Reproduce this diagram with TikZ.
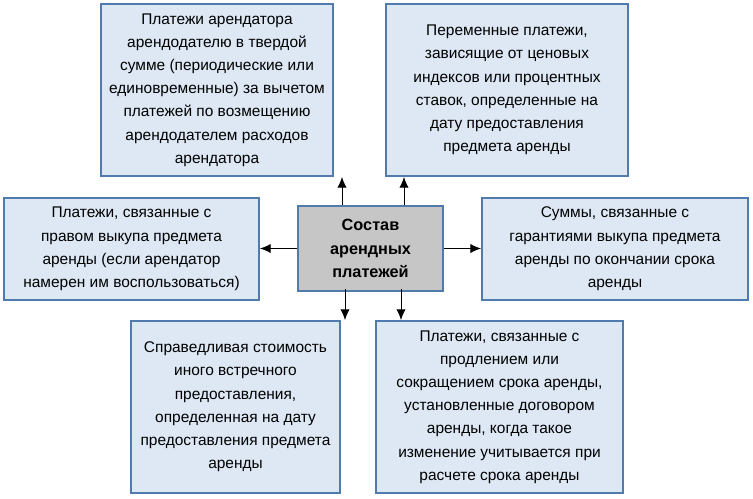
\documentclass[tikz,border=0pt]{standalone}
\usepackage{fontspec}
\setmainfont{Liberation Sans}
\usetikzlibrary{arrows.meta}
\definecolor{boxfill}{RGB}{221,232,244}
\definecolor{boxline}{RGB}{79,124,172}
\definecolor{midfill}{RGB}{198,198,198}
\tikzset{every picture/.style={line width=0.75pt}}
\tikzset{
  infobox/.style={draw=boxline, fill=boxfill, line width=1.5pt, align=center, inner sep=0pt,
    font=\fontsize{11.6}{17.4}\selectfont},
  midbox/.style={infobox, fill=midfill, font=\fontsize{12.2}{17.4}\selectfont\bfseries},
  arr/.style={-{Latex[length=8pt,width=7pt]}}
}
\begin{document}
\begin{tikzpicture}[x=0.75pt,y=0.75pt,yscale=-1,xscale=1]
\useasboundingbox (0,0) rectangle (753,499);

% Boxes
\draw (217,90) node [infobox, minimum width=232*0.75pt, minimum height=172*0.75pt] (tl)
  {Платежи арендатора\\арендодателю в твердой\\сумме (периодические или\\единовременные) за вычетом\\платежей по возмещению\\арендодателем расходов\\арендатора};
\draw (507,90) node [infobox, minimum width=242*0.75pt, minimum height=172*0.75pt] (tr)
  {Переменные платежи,\\зависящие от ценовых\\индексов или процентных\\ставок, определенные на\\дату предоставления\\предмета аренды};
\draw (131.5,249) node [infobox, minimum width=255*0.75pt, minimum height=102*0.75pt] (ml)
  {Платежи, связанные с\\правом выкупа предмета\\аренды (если арендатор\\намерен им воспользоваться)};
\draw (615,249) node [infobox, minimum width=266*0.75pt, minimum height=102*0.75pt] (mr)
  {Суммы, связанные с\\гарантиями выкупа предмета\\аренды по окончании срока\\аренды};
\draw (370.5,248.5) node [midbox, minimum width=145*0.75pt, minimum height=85*0.75pt] (c)
  {Состав\\арендных\\платежей};
\draw (235.5,407) node [infobox, minimum width=209*0.75pt, minimum height=172*0.75pt] (bl)
  {Справедливая стоимость\\иного встречного\\предоставления,\\определенная на дату\\предоставления предмета\\аренды};
\draw (499.5,407) node [infobox, minimum width=247*0.75pt, minimum height=172*0.75pt] (br)
  {Платежи, связанные с\\продлением или\\сокращением срока аренды,\\установленные договором\\аренды, когда такое\\изменение учитывается при\\расчете срока аренды};

% Arrows
\draw [arr] ([xshift=-28.5*0.75pt]c.north) -- ([xshift=-28.5*0.75pt]c.north |- tl.south);
\draw [arr] ([xshift=33.5*0.75pt]c.north) -- ([xshift=33.5*0.75pt]c.north |- tr.south);
\draw [arr] (c.west) -- (c.west -| ml.east);
\draw [arr] (c.east) -- (c.east -| mr.west);
\draw [arr] ([xshift=-25.5*0.75pt,yshift=-3*0.75pt]c.south) -- ([xshift=-25.5*0.75pt]c.south |- bl.north);
\draw [arr] ([xshift=30.5*0.75pt,yshift=-3*0.75pt]c.south) -- ([xshift=30.5*0.75pt]c.south |- br.north);

\end{tikzpicture}
\end{document}
